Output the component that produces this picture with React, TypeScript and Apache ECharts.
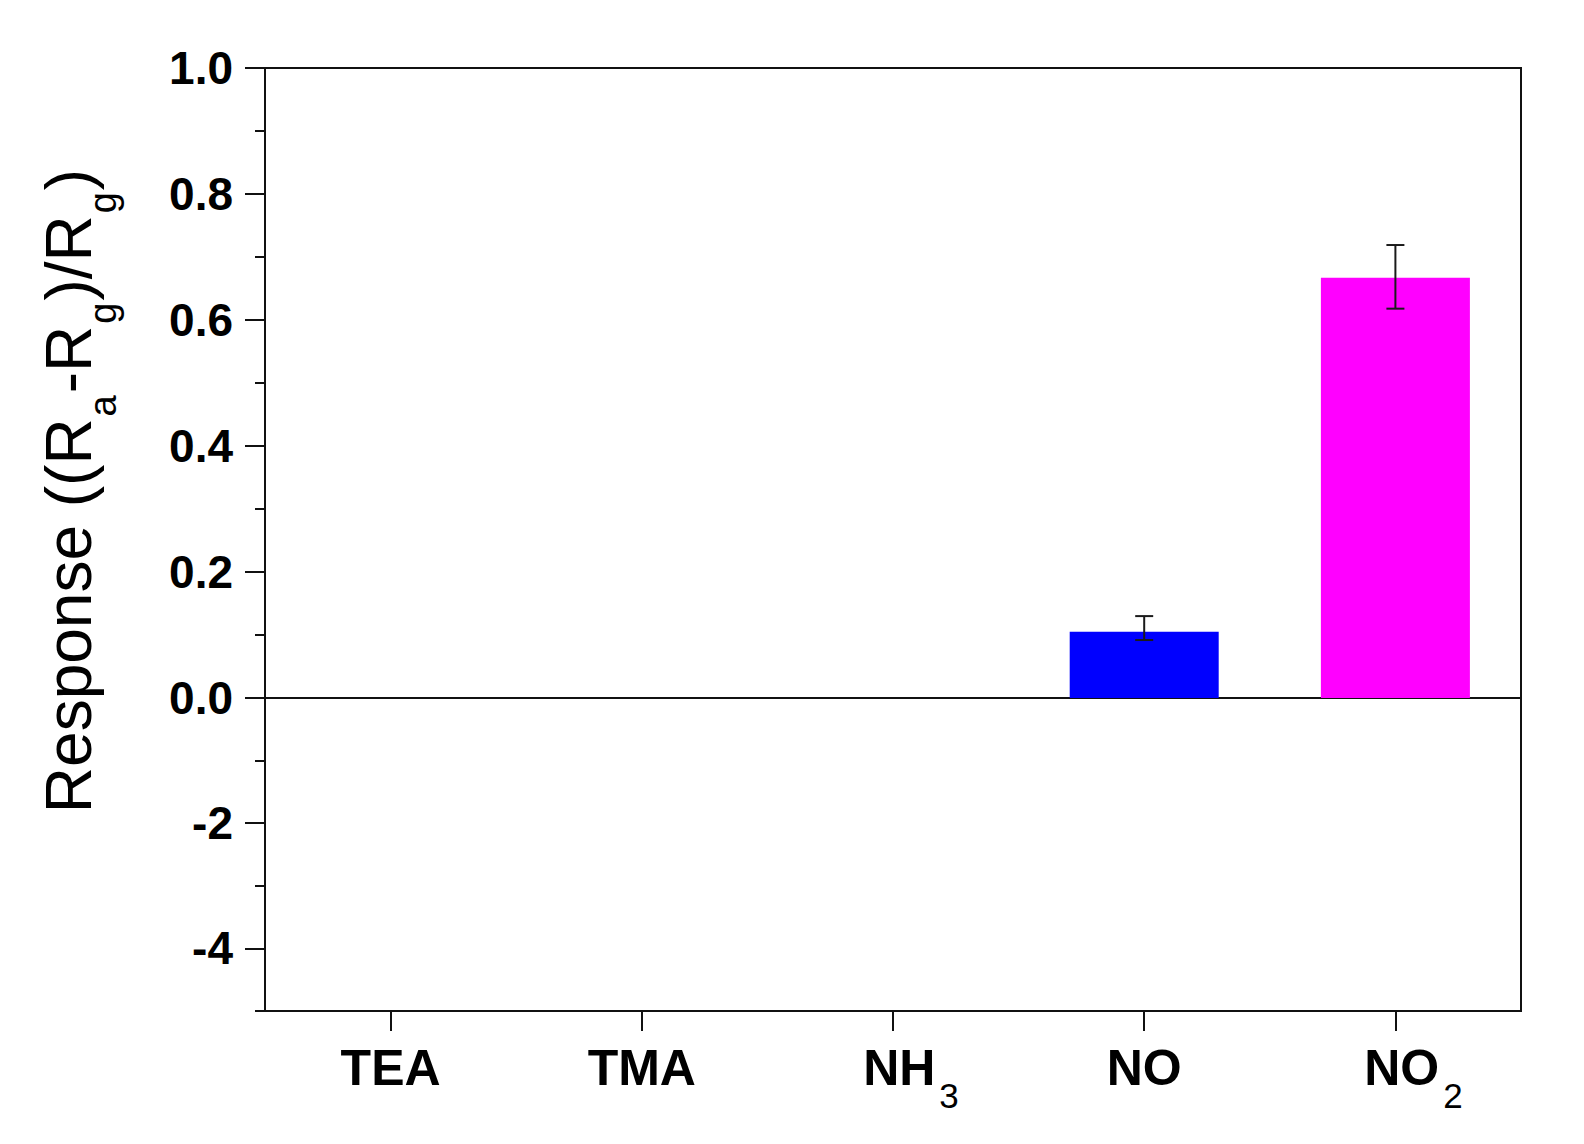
import React, { useEffect, useRef } from 'react';
import * as echarts from 'echarts';

const categoryMain = ['TEA', 'TMA', 'NH', 'NO', 'NO'];
const categorySub = ['', '', '3', '', '2'];
const responses = [0, 0, 0, 0.105, 0.667];
const errorLow: (number | null)[] = [null, null, null, 0.092, 0.618];
const errorHigh: (number | null)[] = [null, null, null, 0.13, 0.719];
const barColors = ['#0000ff', '#0000ff', '#0000ff', '#0000ff', '#ff00ff'];
const upperAxis = { min: 0, max: 1, interval: 0.2 };
const lowerAxis = { min: -5, max: 0, minorInterval: 1 };
const lowerMajorTicks = [0, -2, -4];
const lowerTickLabels = [-2, -4];

const FONT = "'Liberation Sans', Arial, Helvetica, sans-serif";

export default function App() {
  const ref = useRef<HTMLDivElement>(null);
  useEffect(() => {
    document.body.style.margin = '0';
    if (!ref.current) return;
    const chart = echarts.init(ref.current, undefined, { renderer: 'svg' });

    const gridLeft = 265;
    const gridRight = 63;
    const top1 = 68;
    const zeroY = 698;
    const bottomY = 1011;

    const frame = { show: true, borderColor: '#111', borderWidth: 2, backgroundColor: 'transparent' };

    const errData: any[] = [];
    responses.forEach((_, i) => {
      if (errorLow[i] != null && errorHigh[i] != null) errData.push([i, errorLow[i], errorHigh[i]]);
    });

    const catLabelRich = {
      m: { fontSize: 50, fontWeight: 'bold', fontFamily: FONT, color: '#000', lineHeight: 60 },
      mp: { fontSize: 50, fontWeight: 'bold', fontFamily: FONT, color: '#000', lineHeight: 60, padding: [0, 0, 0, 36] },
      s: { fontSize: 35, fontWeight: 'normal', fontFamily: FONT, color: '#000', lineHeight: 60, padding: [55, 0, 0, 4] },
    };

    const tickLabelStyle = {
      fontSize: 46,
      fontWeight: 'bold',
      fontFamily: FONT,
      color: '#000',
      margin: 32,
      padding: [0, 0, 12, 0],
    };

    const option: any = {
      animation: false,
      backgroundColor: '#fff',
      grid: [
        { left: gridLeft, right: gridRight, top: top1, height: zeroY - top1, ...frame },
        { left: gridLeft, right: gridRight, top: zeroY, height: bottomY - zeroY, ...frame },
      ],
      xAxis: [
        {
          type: 'category',
          gridIndex: 0,
          data: categoryMain.map((_, i) => i),
          show: false,
        },
        {
          type: 'category',
          gridIndex: 1,
          position: 'bottom',
          data: categoryMain.map((_, i) => i),
          axisLine: { show: false, onZero: false },
          axisTick: { show: true, alignWithLabel: true, interval: 0, length: 20, lineStyle: { color: '#111', width: 2 } },
          axisLabel: {
            interval: 0,
            margin: 27,
            formatter: (v: any) => {
              const i = Number(v);
              return categorySub[i]
                ? `{mp|${categoryMain[i]}}{s|${categorySub[i]}}`
                : `{m|${categoryMain[i]}}`;
            },
            rich: catLabelRich,
          },
        },
      ],
      yAxis: [
        {
          type: 'value',
          gridIndex: 0,
          position: 'left',
          min: upperAxis.min,
          max: upperAxis.max,
          interval: upperAxis.interval,
          axisLine: { show: false, onZero: false },
          splitLine: { show: false },
          axisTick: { show: true, length: 20, lineStyle: { color: '#111', width: 2 } },
          minorTick: { show: true, splitNumber: 2, length: 10, lineStyle: { color: '#111', width: 2 } },
          axisLabel: { ...tickLabelStyle, formatter: (v: number) => v.toFixed(1) },
        },
        {
          type: 'value',
          gridIndex: 1,
          position: 'left',
          offset: 0,
          min: lowerAxis.min,
          max: lowerAxis.max,
          interval: lowerAxis.minorInterval,
          axisLine: { show: false, onZero: false },
          splitLine: { show: false },
          axisTick: { show: true, length: 10, lineStyle: { color: '#111', width: 2 } },
          axisLabel: { show: false },
        },
        {
          type: 'value',
          gridIndex: 1,
          position: 'left',
          offset: 0,
          min: lowerAxis.min,
          max: lowerAxis.max,
          interval: lowerAxis.minorInterval,
          axisLine: { show: false, onZero: false },
          splitLine: { show: false },
          axisTick: { show: true, length: 20, customValues: lowerMajorTicks, lineStyle: { color: '#111', width: 2 } },
          axisLabel: { ...tickLabelStyle, customValues: lowerTickLabels, formatter: (v: number) => String(v) },
        },
      ],
      series: [
        {
          type: 'bar',
          xAxisIndex: 0,
          yAxisIndex: 0,
          barWidth: 149,
          data: responses.map((v, i) => ({ value: v, itemStyle: { color: barColors[i] } })),
          silent: true,
        },
        {
          type: 'custom',
          xAxisIndex: 0,
          yAxisIndex: 0,
          encode: { x: 0, y: [1, 2] },
          data: errData,
          silent: true,
          z: 5,
          renderItem: (params: any, api: any) => {
            const x = api.value(0);
            const lo = api.coord([x, api.value(1)]);
            const hi = api.coord([x, api.value(2)]);
            const half = 9;
            const style = { stroke: '#1a1a1a', lineWidth: 2 };
            return {
              type: 'group',
              children: [
                { type: 'line', shape: { x1: lo[0], y1: lo[1], x2: hi[0], y2: hi[1] }, style },
                { type: 'line', shape: { x1: hi[0] - half, y1: hi[1], x2: hi[0] + half, y2: hi[1] }, style },
                { type: 'line', shape: { x1: lo[0] - half, y1: lo[1], x2: lo[0] + half, y2: lo[1] }, style },
              ],
            };
          },
        },
      ],
      graphic: [
        {
          type: 'text',
          x: 69,
          y: 491,
          rotation: Math.PI / 2,
          style: {
            text: 'Response ((R{s|a}-R{s|g})/R{s|g})',
            align: 'center',
            verticalAlign: 'middle',
            fontSize: 64,
            fontFamily: FONT,
            fill: '#000',
            lineHeight: 80,
            rich: {
              s: { fontSize: 38, fontFamily: FONT, fill: '#000', lineHeight: 80, padding: [68, 2, 0, 2] },
            },
          },
        },
      ],
    };
    chart.setOption(option);
    return () => chart.dispose();
  }, []);
  return <div ref={ref} style={{ width: 1584, height: 1144 }} />;
}
